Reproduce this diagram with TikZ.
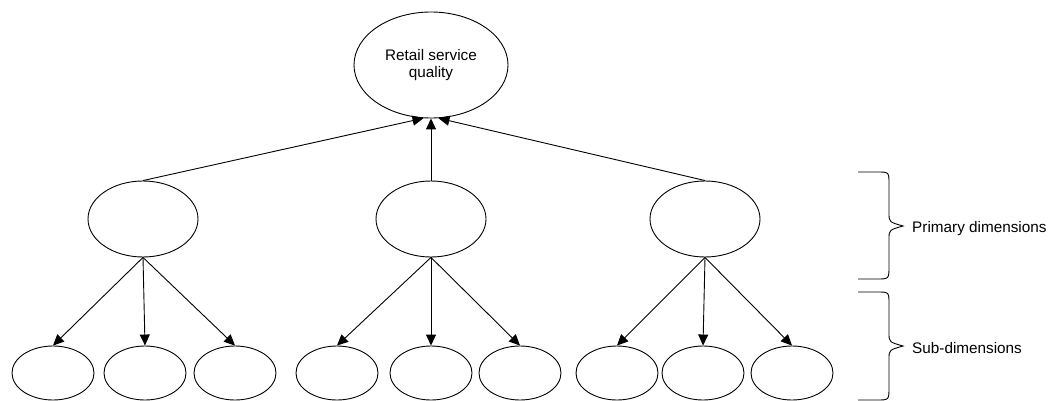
\documentclass[tikz,border=0pt]{standalone}
\usepackage{fontspec}
\setmainfont{Liberation Sans}
\usetikzlibrary{shapes.geometric,arrows.meta}
\begin{document}
\begin{tikzpicture}[x=1pt,y=-1pt,
  every node/.style={font=\fontsize{15.3}{17.5}\selectfont},
  oval/.style={draw,ellipse,inner sep=0pt,line width=0.9pt},
  topoval/.style={oval,minimum width=154pt,minimum height=106pt,align=center},
  primoval/.style={oval,minimum width=110pt,minimum height=76pt},
  suboval/.style={oval,minimum width=82pt,minimum height=54pt},
  link/.style={line width=0.9pt,-{Triangle[length=11pt,width=10pt]}},
  bracket/.style={line width=0.9pt},
  label/.style={anchor=west,inner sep=0pt}]
\useasboundingbox (0,0) rectangle (1052,401);

% top level
\node[topoval] (top) at (431,65) {Retail service\\quality};

% primary dimensions
\node[primoval] (p1) at (143,219) {};
\node[primoval] (p2) at (431,219) {};
\node[primoval] (p3) at (705,219) {};

% sub-dimensions
\node[suboval] (s11) at (53,373) {};
\node[suboval] (s12) at (145,373) {};
\node[suboval] (s13) at (235,373) {};
\node[suboval] (s21) at (337,373) {};
\node[suboval] (s22) at (431,373) {};
\node[suboval] (s23) at (520,373) {};
\node[suboval] (s31) at (617,373) {};
\node[suboval] (s32) at (703,373) {};
\node[suboval] (s33) at (792,373) {};

% primary -> overall quality
\draw[link] (p1.north) -- (top.262);
\draw[link] (p2.north) -- (top.south);
\draw[link] (p3.north) -- (top.278);

% sub-dimensions under each primary dimension
\foreach \p in {1,2,3}{
  \foreach \s in {1,2,3}{
    \draw[link] (p\p.south) -- (s\p\s.north);
  }
}

% braces with their captions
\coordinate (b1) at (903,226);
\coordinate (b2) at (903,346);
\draw[bracket] (858,172) -- (877,172) .. controls (889,172) .. (889,184) -- (889,213)
  .. controls (889,222) .. (b1) .. controls (889,230) .. (889,239) -- (889,266)
  .. controls (889,279) .. (877,279) -- (858,279);
\draw[bracket] (858,292) -- (877,292) .. controls (889,292) .. (889,304) -- (889,333)
  .. controls (889,342) .. (b2) .. controls (889,350) .. (889,359) -- (889,387)
  .. controls (889,400) .. (877,400) -- (858,400);
\node[label] (l1) at (912,229) {Primary dimensions};
\node[label] (l2) at (912,348) {Sub-dimensions};
\end{tikzpicture}
\end{document}
